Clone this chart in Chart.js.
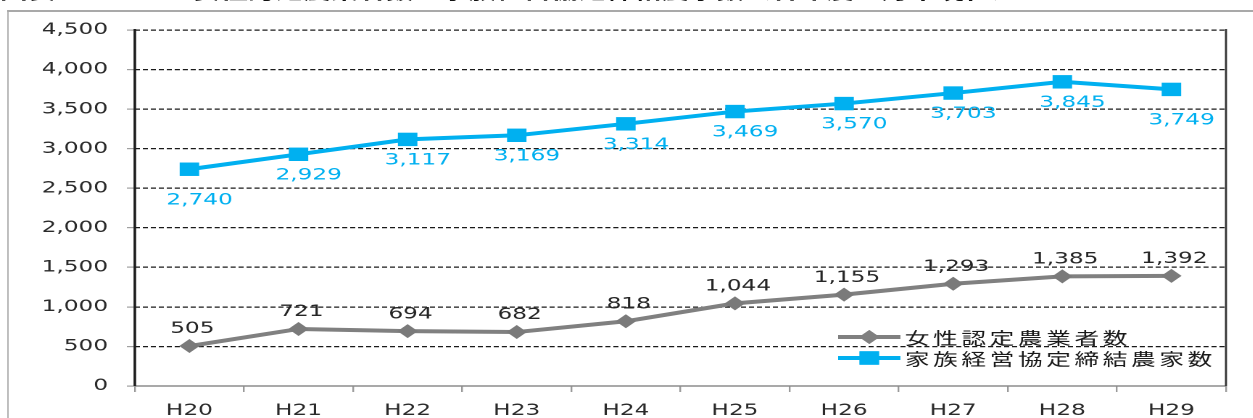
<!DOCTYPE html>
<html>
<head>
<meta charset="utf-8">
<script src="https://cdn.jsdelivr.net/npm/chart.js@4/dist/chart.umd.min.js"></script>
<style>
    html, body { margin: 0; padding: 0; background: #fff; overflow: hidden; }
    #stage {
        position: absolute; left: 0; top: 0;
        width: 864px; height: 418px;
        transform: scaleX(1.45); transform-origin: 0 0;
    }
    #title {
        position: absolute; left: 0; top: -19px;
        font: bold 19px "Noto Sans CJK JP", sans-serif;
        line-height: 20px; white-space: nowrap; color: #111;
    }
    #frame {
        position: absolute; left: 4.8px; top: 10px;
        width: 1000px; height: 1000px;
        border-left: 1.4px solid #a9a9a9; border-top: 2px solid #a9a9a9;
    }
    #chart { position: absolute; left: 0; top: 0; }
</style>
</head>
<body>
<div id="stage">
    <div id="title">図表　３－５　女性認定農業者数・家族経営協定締結農家数（各年度３月末現在）</div>
    <div id="frame"></div>
    <canvas id="chart" width="864" height="418" style="width:864px;height:418px"></canvas>
</div>
<script>
const years = ['H20', 'H21', 'H22', 'H23', 'H24', 'H25', 'H26', 'H27', 'H28', 'H29'];
const womenFarmers = [505, 721, 694, 682, 818, 1044, 1155, 1293, 1385, 1392];
const familyAgreements = [2740, 2929, 3117, 3169, 3314, 3469, 3570, 3703, 3845, 3749];
const seriesNames = ['女性認定農業者数', '家族経営協定締結農家数'];
const yTicks = [0, 500, 1000, 1500, 2000, 2500, 3000, 3500, 4000, 4500];

const GRAY = '#808080';
const BLUE = '#00b0f0';
const NUM_FONT = '16px "DejaVu Sans", Verdana, sans-serif';

function fmt(v) {
    return v.toLocaleString('en-US');
}

// value labels: gray above the points, blue below
const valueLabels = {
    id: 'valueLabels',
    afterDatasetsDraw(chart) {
        const ctx = chart.ctx;
        ctx.save();
        ctx.font = NUM_FONT;
        ctx.textAlign = 'center';
        ctx.textBaseline = 'middle';
        chart.data.datasets.forEach((ds, i) => {
            const meta = chart.getDatasetMeta(i);
            meta.data.forEach((pt, j) => {
                let dx, dy;
                if (i === 0) {
                    ctx.fillStyle = '#262626';
                    dx = 2; dy = -17;
                } else {
                    ctx.fillStyle = BLUE;
                    dx = 7;
                    dy = (j === 0 || j === ds.data.length - 1) ? 31 : 21;
                }
                ctx.fillText(fmt(ds.data[j]), pt.x + dx, pt.y + dy);
            });
        });
        ctx.restore();
    }
};

// frame lines + legend inside the plot
const frameAndLegend = {
    id: 'frameAndLegend',
    afterDraw(chart) {
        const ctx = chart.ctx;
        const a = chart.chartArea;
        ctx.save();
        ctx.setLineDash([]);
        ctx.strokeStyle = '#8c8c8c';
        ctx.lineWidth = 1.5;
        ctx.beginPath();
        ctx.moveTo(a.left, a.bottom);
        ctx.lineTo(a.right, a.bottom);
        ctx.stroke();

        ctx.strokeStyle = '#1e1e1e';
        ctx.lineWidth = 1.8;
        ctx.beginPath();
        ctx.moveTo(a.left, a.top - 1);
        ctx.lineTo(a.left, a.bottom);
        ctx.stroke();
        ctx.strokeStyle = '#333';
        ctx.lineWidth = 1.4;
        ctx.beginPath();
        ctx.moveTo(a.right, a.top - 1);
        ctx.lineTo(a.right, a.bottom);
        ctx.stroke();

        const rows = [
            { y: 337, color: GRAY, style: 'rectRot', r: 7 },
            { y: 358, color: BLUE, style: 'rect', r: 9.5 }
        ];
        rows.forEach((row, i) => {
            ctx.strokeStyle = row.color;
            ctx.lineWidth = 4;
            ctx.beginPath();
            ctx.moveTo(578, row.y);
            ctx.lineTo(621, row.y);
            ctx.stroke();
            ctx.fillStyle = row.color;
            Chart.helpers.drawPoint(ctx, { pointStyle: row.style, radius: row.r, rotation: 0, borderWidth: 0 }, 599.5, row.y);
            ctx.fill();
            ctx.fillStyle = '#1a1a1a';
            ctx.font = '17px "Noto Sans CJK JP", sans-serif';
            ctx.letterSpacing = '2.5px';
            ctx.textAlign = 'left';
            ctx.textBaseline = 'middle';
            ctx.fillText(seriesNames[i], 624, row.y + 1);
            ctx.letterSpacing = '0px';
        });
        ctx.restore();
    }
};

new Chart(document.getElementById('chart'), {
    type: 'line',
    data: {
        labels: years,
        datasets: [
            {
                label: seriesNames[0],
                data: womenFarmers,
                borderColor: GRAY,
                backgroundColor: '#7a7a7a',
                borderWidth: 4,
                pointStyle: 'rectRot',
                pointRadius: 7,
                pointHoverRadius: 7,
                pointBorderWidth: 0,
                tension: 0
            },
            {
                label: seriesNames[1],
                data: familyAgreements,
                borderColor: BLUE,
                backgroundColor: BLUE,
                borderWidth: 4,
                pointStyle: 'rect',
                pointRadius: 9.5,
                pointHoverRadius: 9.5,
                pointBorderWidth: 0,
                tension: 0
            }
        ]
    },
    options: {
        responsive: false,
        animation: false,
        devicePixelRatio: 2,
        layout: { padding: { top: 30, right: 18.5, left: 0, bottom: 0 } },
        plugins: {
            legend: { display: false },
            tooltip: { enabled: false }
        },
        scales: {
            x: {
                offset: true,
                border: { display: false },
                grid: {
                    offset: true,
                    drawOnChartArea: false,
                    color: '#9a9a9a',
                    tickLength: 6,
                    lineWidth: 1.2
                },
                ticks: {
                    color: '#2a2a2a',
                    font: { family: '"DejaVu Sans", Verdana, sans-serif', size: 16 },
                    padding: 9,
                    maxRotation: 0
                },
                afterFit(scale) { scale.height = 32; }
            },
            y: {
                min: 0,
                max: 4500,
                border: { display: false, dash: [3.5, 2] },
                afterBuildTicks(scale) { scale.ticks = yTicks.map(v => ({ value: v })); },
                grid: {
                    color: ctx => ctx.tick && ctx.tick.value === 0 ? 'rgba(0,0,0,0)' : '#1a1a1a',
                    tickColor: '#a0a0a0',
                    tickLength: 5.5,
                    tickBorderDash: [],
                    lineWidth: 1.2
                },
                ticks: {
                    color: '#2a2a2a',
                    font: { family: '"DejaVu Sans", Verdana, sans-serif', size: 16 },
                    padding: 13,
                    callback: v => fmt(v)
                },
                afterFit(scale) { scale.width = 93; }
            }
        }
    },
    plugins: [valueLabels, frameAndLegend]
});
</script>
</body>
</html>
